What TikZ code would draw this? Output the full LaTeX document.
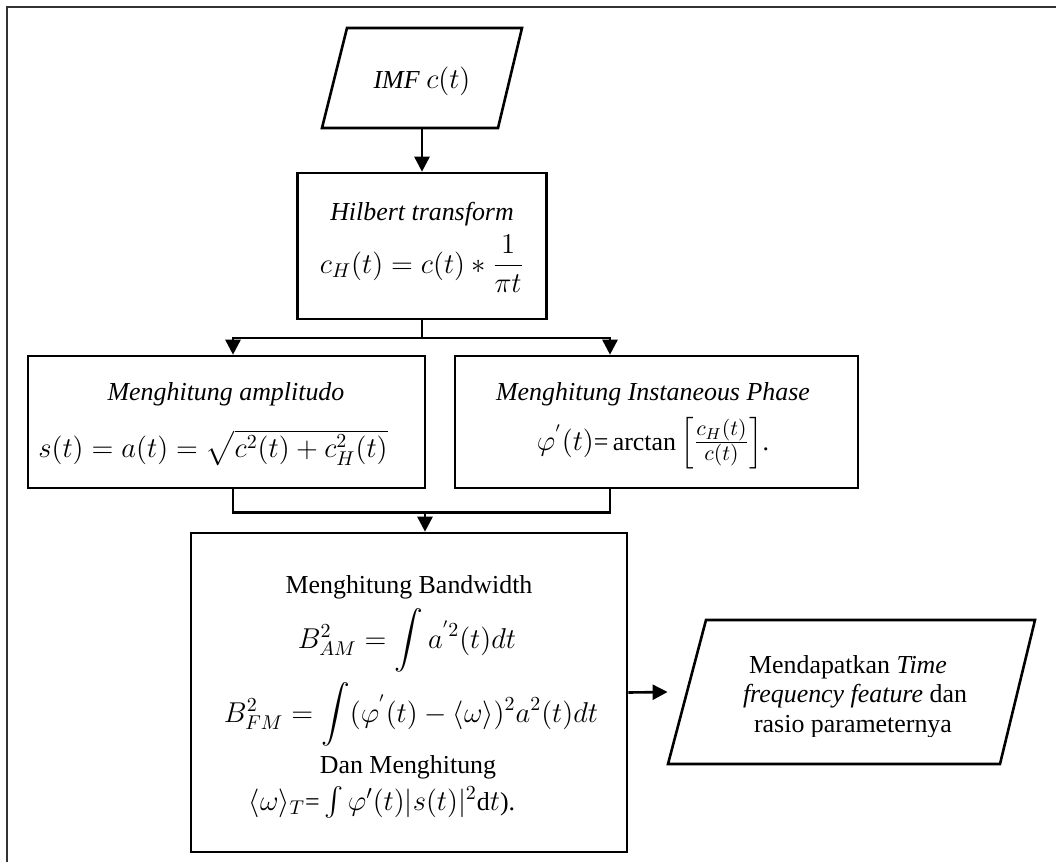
\documentclass[tikz,border=0pt]{standalone}
\usepackage{amsmath}
\usepackage{fontspec}
\setmainfont{Liberation Serif}
\usetikzlibrary{arrows.meta,calc}
\newcommand\mathsz{\fontsize{14.5}{17}\selectfont}
\newcommand\fracsz{\fontsize{15.5}{18}\selectfont}
\tikzset{
  px/.style={x=0.5bp,y=-0.5bp},
  box/.style={draw, line width=1.3bp, rectangle, inner sep=0pt},
  hole/.style={rectangle, inner sep=0pt},
  txt/.style={anchor=base, inner sep=0pt, font=\fontsize{13}{15.6}\selectfont},
  wire/.style={line width=1.3bp},
  arr/.style={line width=1.3bp, -{Triangle[width=7.5bp,length=7.5bp]}},
  outline/.style={line width=1.3bp, line join=miter},
  frame/.style={line width=1bp, draw=black!80},
}
\begin{document}
\begin{tikzpicture}[px]
\useasboundingbox (0,0) rectangle (1056,862);
\fill[white] (0,0) rectangle (1056,862);
\draw[frame] (1056,7) -- (7,7) -- (7,862);

% input signal
\node[hole, minimum width=100bp, minimum height=50bp] (imf) at (422,78) {};
\draw[outline] (322,128) -- (347,28) -- (522,28) -- (498,128) -- cycle;
\node[txt] (imft) at (422,88) {\textit{IMF} {\mathsz$c(t)$}};

% Hilbert transform
\node[box, minimum width=124.5bp, minimum height=73bp] (hil) at (422,246) {};
\node[txt] (hilt) at (422,220) {\textit{Hilbert transform}};
\node[txt] (hilf) at (422,273) {\mathsz$c_H(t)=c(t)\ast\dfrac{1}{\pi t}$};

% amplitude
\node[box, minimum width=198.5bp, minimum height=66bp] (amp) at (226.5,422) {};
\node[txt] (ampt) at (226,400) {\textit{Menghitung amplitudo}};
\node[txt] (ampf) at (213,457) {\mathsz$s(t)=a(t)=\sqrt{c^2(t)+c_H^2(t)}$};

% instantaneous phase
\node[box, minimum width=201.5bp, minimum height=66bp] (ph) at (656.5,422) {};
\node[txt] (pht) at (653,400) {\textit{Menghitung Instaneous Phase}};
\node[txt] (phf) at (653,450) {{\mathsz$\varphi^{'}(t)$}=\,arctan\,{\fracsz$\left[\frac{c_H(t)}{c(t)}\right]$}.};

% bandwidth
\node[box, minimum width=218bp, minimum height=159.5bp] (bw) at (409,692.5) {};
\node[txt] (bw1) at (409,593) {Menghitung Bandwidth};
\node[txt] (bw2) at (407,648) {\mathsz$B_{AM}^2=\displaystyle\int a^{'2}(t)dt$};
\node[txt] (bw3) at (411,722) {\mathsz$B_{FM}^2=\displaystyle\int(\varphi^{'}(t)-\langle\omega\rangle)^2a^2(t)dt$};
\node[txt] (bw4) at (408,773) {Dan Menghitung};
\node[txt] (bw5) at (382,810) {{\mathsz$\langle\omega\rangle_T$}=\,{\mathsz$\int\varphi'(t)|s(t)|^2$}d{\mathsz$t$}).};

% output
\node[hole, minimum width=184bp, minimum height=72bp] (out) at (852,692) {};
\draw[outline] (668,764) -- (706,620) -- (1035,620) -- (1000,764) -- cycle;
\begin{scope}
  \clip (650,600) rectangle (1050,736);
  \node[txt] (o1) at (848,673) {Mendapatkan \textit{Time}};
  \node[txt] (o2) at (855,702) {\textit{frequency feature} dan};
  \node[txt] (o3) at (853,732) {rasio parameternya};
\end{scope}

% connectors
\draw[arr] (imf.south) -- (hil.north);
\coordinate (split) at (422,338);
\draw[wire] (hil.south) -- (split);
\draw[arr] (split) -| ($(amp.north)+(6.5,0)$);
\draw[arr] (split) -| ($(ph.north)+(-46.5,0)$);
\draw[wire] ($(amp.south)+(6.5,0)$) -- ++(0,23) -| ($(ph.south)+(-46.5,0)$);
\coordinate (merge) at (425,511);
\draw[arr] (merge) -- (merge |- bw.north);
\draw[arr] (bw.east) -- (out.west);
\end{tikzpicture}
\end{document}
